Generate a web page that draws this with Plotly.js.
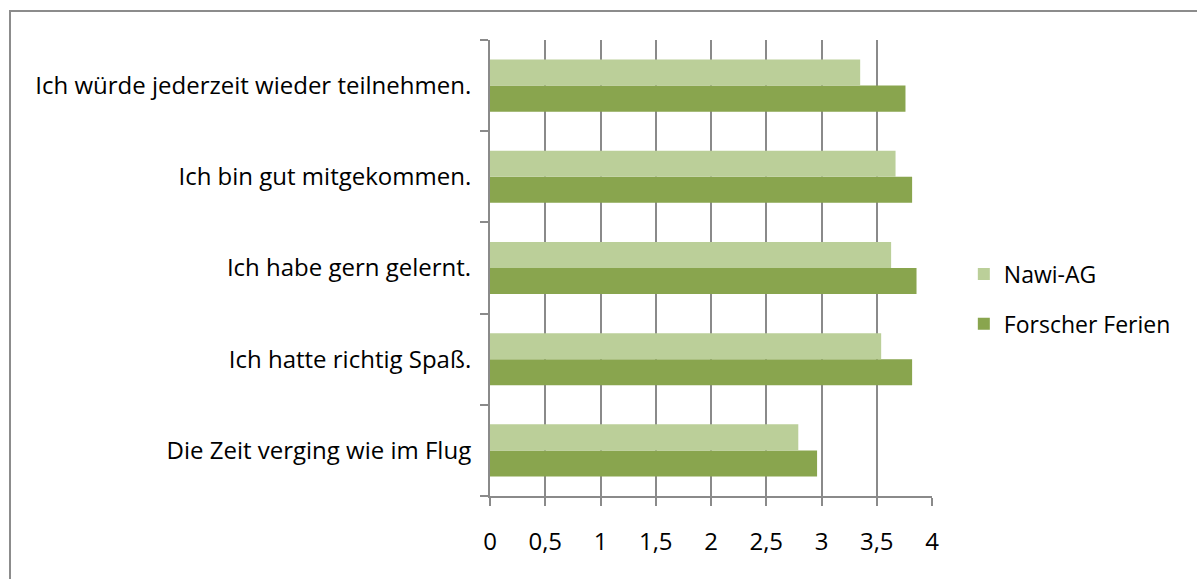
<!DOCTYPE html>
<html>
<head>
<meta charset="utf-8">
<script src="https://cdn.plot.ly/plotly-3.0.1.min.js"></script>
<style>
html,body{margin:0;padding:0;background:#fff;}
#wrap{position:relative;width:1197px;height:579px;overflow:hidden;}
#chart{position:absolute;left:0;top:0;width:1197px;height:579px;}
#frame{position:absolute;left:9px;top:10px;width:1200px;height:600px;border:2px solid #8c8c8c;box-sizing:border-box;pointer-events:none;}
</style>
</head>
<body>
<div id="wrap"><div id="chart"></div><div id="frame"></div></div>
<script>
// categories listed bottom to top
const categories = [
  "Die Zeit verging wie im Flug",
  "Ich hatte richtig Spaß.",
  "Ich habe gern gelernt.",
  "Ich bin gut mitgekommen.",
  "Ich würde jederzeit wieder teilnehmen."
];
const nawiAG = [2.79, 3.54, 3.63, 3.67, 3.35];
const forscherFerien = [2.96, 3.82, 3.86, 3.82, 3.76];
const xTicks = [0, 0.5, 1, 1.5, 2, 2.5, 3, 3.5, 4];

const font = {family: "Open Sans, Noto Sans, sans-serif", size: 24, color: "#000"};

const traces = [
  {type: "bar", orientation: "h", name: "Forscher Ferien", y: categories, x: forscherFerien,
   marker: {color: "#89A54E", line: {width: 0}}, legendgroup: "b", legendrank: 2, hoverinfo: "x+name"},
  {type: "bar", orientation: "h", name: "Nawi-AG", y: categories, x: nawiAG,
   marker: {color: "#BBCF99", line: {width: 0}}, legendgroup: "a", legendrank: 1, hoverinfo: "x+name"}
];

const layout = {
  width: 1197, height: 579,
  margin: {l: 490, r: 265, t: 40, b: 83},
  paper_bgcolor: "#fff", plot_bgcolor: "#fff",
  font: font,
  separators: ",.",
  barmode: "group",
  bargap: 0.4286,
  bargroupgap: 0,
  showlegend: true,
  legend: {
    x: 1.072, xanchor: "left", xref: "paper", y: 0.432, yanchor: "middle",
    traceorder: "grouped", tracegroupgap: 17,
    font: {family: "Open Sans, Noto Sans, sans-serif", size: 23, color: "#000"},
    itemwidth: 30, bgcolor: "rgba(0,0,0,0)"
  },
  xaxis: {
    range: [0, 4], tickvals: xTicks, ticktext: xTicks.map(v => String(v).replace(".", ",")),
    showgrid: true, gridcolor: "#8a8a8a", gridwidth: 2,
    showline: true, linecolor: "#8a8a8a", linewidth: 2,
    ticks: "outside", ticklen: 8, tickwidth: 2, tickcolor: "#8a8a8a",
    zeroline: false, fixedrange: true, ticklabelstandoff: 15
  },
  yaxis: {
    type: "category", categoryorder: "array", categoryarray: categories,
    showgrid: false, showline: true, linecolor: "#8a8a8a", linewidth: 2,
    ticks: "outside", tickson: "boundaries", ticklen: 8, tickwidth: 2, tickcolor: "#8a8a8a",
    fixedrange: true, ticklabelstandoff: 12
  }
};

Plotly.newPlot("chart", traces, layout, {displayModeBar: false, staticPlot: true});
</script>
</body>
</html>
